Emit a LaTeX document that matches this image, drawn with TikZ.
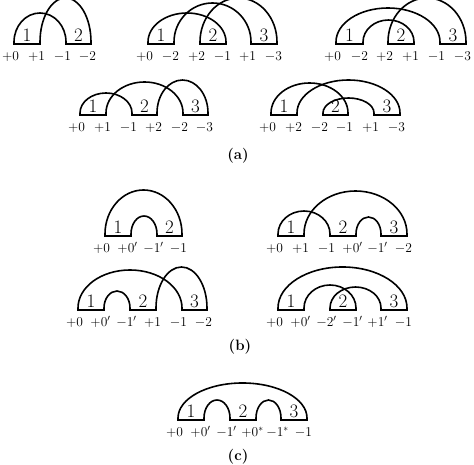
\RequirePackage{fix-cm}
\documentclass[tikz,border=0pt]{standalone}
\usetikzlibrary{calc}
\tikzset{
	lab/.style={font=\fontsize{13.5}{15}\selectfont,anchor=base,inner sep=0pt,xshift=-3.5pt,yshift=-16.5pt},
	num/.style={font=\fontsize{19}{21}\selectfont,anchor=base,inner sep=0pt,yshift=2pt},
	part/.style={font=\fontsize{15}{17}\selectfont\bfseries,inner sep=0pt},
	arch/.style={to path={let \p1=(\tikztostart),\p2=(\tikztotarget) in
		-- ++(0,2) arc[start angle=180,end angle=0,x radius={(\x2-\x1)/2},y radius={#1pt-2pt}] -- (\tikztotarget)}}
}

\begin{document}
\begin{tikzpicture}[x=1pt,y=1pt,line width=1.6pt,line cap=rect]
	\useasboundingbox (0,0) rectangle (474,465);
	% (a)
	\foreach \x/\t [count=\i from 0] in {14/+0,40/+1,66/-1,91/-2}
		{\coordinate (A\i) at (\x,421); \node[lab] (lA\i) at (A\i) {$\t$};}
	\foreach \x/\t [count=\i from 0] in {148/+0,174/-2,200/+2,226/-1,251/+1,277/-3}
		{\coordinate (B\i) at (\x,421); \node[lab] (lB\i) at (B\i) {$\t$};}
	\foreach \x/\t [count=\i from 0] in {336/+0,363/-2,388/+2,414/+1,440/-1,466/-3}
		{\coordinate (C\i) at (\x,421); \node[lab] (lC\i) at (C\i) {$\t$};}
	\foreach \x/\t [count=\i from 0] in {80/+0,106/+1,132/-1,157/+2,183/-2,208/-3}
		{\coordinate (D\i) at (\x,350); \node[lab] (lD\i) at (D\i) {$\t$};}
	\foreach \x/\t [count=\i from 0] in {271/+0,297/+2,323/-2,348/-1,374/+1,400/-3}
		{\coordinate (E\i) at (\x,350); \node[lab] (lE\i) at (E\i) {$\t$};}
	% (b)
	\foreach \x/\t [count=\i from 0] in {105/+0,131/+0',157/-1',182/-1}
		{\coordinate (F\i) at (\x,229); \node[lab] (lF\i) at (F\i) {$\t$};}
	\foreach \x/\t [count=\i from 0] in {278/+0,304/+1,330/-1,356/+0',381/-1',407/-2}
		{\coordinate (G\i) at (\x,229); \node[lab] (lG\i) at (G\i) {$\t$};}
	\foreach \x/\t [count=\i from 0] in {78/+0,104/+0',130/-1',156/+1,182/-1,207/-2}
		{\coordinate (H\i) at (\x,155); \node[lab] (lH\i) at (H\i) {$\t$};}
	\foreach \x/\t [count=\i from 0] in {278/+0,304/+0',330/-2',356/-1',381/+1',407/-1}
		{\coordinate (I\i) at (\x,155); \node[lab] (lI\i) at (I\i) {$\t$};}
	% (c)
	\foreach \x/\t [count=\i from 0] in {178/+0,204/+0',230/-1',256/+0^*,281/-1^*,307/-1}
		{\coordinate (J\i) at (\x,45); \node[lab] (lJ\i) at (J\i) {$\t$};}
	% boxes
	\foreach \d in {A,F}
		\foreach \k/\a/\b in {1/0/1,2/2/3}
			\draw (\d\a) -- (\d\b) node[num,midway] (\d n\k) {\k};
	\foreach \d in {B,C,D,E,G,H,I,J}
		\foreach \k/\a/\b in {1/0/1,2/2/3,3/4/5}
			\draw (\d\a) -- (\d\b) node[num,midway] (\d n\k) {\k};
	% arcs
	\path
		(A0)	edge[arch=31]	(A2)
		(A1)	edge[arch=46]	(A3)
		(B0)	edge[arch=31]	(B3)
		(B1)	edge[arch=41]	(B4)
		(B2)	edge[arch=46]	(B5)
		(C0)	edge[arch=36]	(C4)
		(C1)	edge[arch=24]	(C3)
		(C2)	edge[arch=46]	(C5)
		(D0)	edge[arch=22]	(D2)
		(D1)	edge[arch=33]	(D4)
		(D3)	edge[arch=35]	(D5)
		(E0)	edge[arch=32]	(E3)
		(E2)	edge[arch=17]	(E4)
		(E1)	edge[arch=35]	(E5)
		(F0)	edge[arch=46]	(F3)
		(F1)	edge[arch=20]	(F2)
		(G0)	edge[arch=25]	(G2)
		(G1)	edge[arch=45]	(G5)
		(G3)	edge[arch=19]	(G4)
		(H0)	edge[arch=40]	(H4)
		(H1)	edge[arch=19]	(H2)
		(H3)	edge[arch=43]	(H5)
		(I0)	edge[arch=43]	(I5)
		(I1)	edge[arch=25]	(I3)
		(I2)	edge[arch=23]	(I4)
		(J0)	edge[arch=37]	(J5)
		(J1)	edge[arch=20]	(J2)
		(J3)	edge[arch=20]	(J4);
	\node[part] (pa) at (238,309) {(a)};
	\node[part] (pb) at (240,118) {(b)};
	\node[part] (pc) at (238,8) {(c)};
\end{tikzpicture}
\end{document}
